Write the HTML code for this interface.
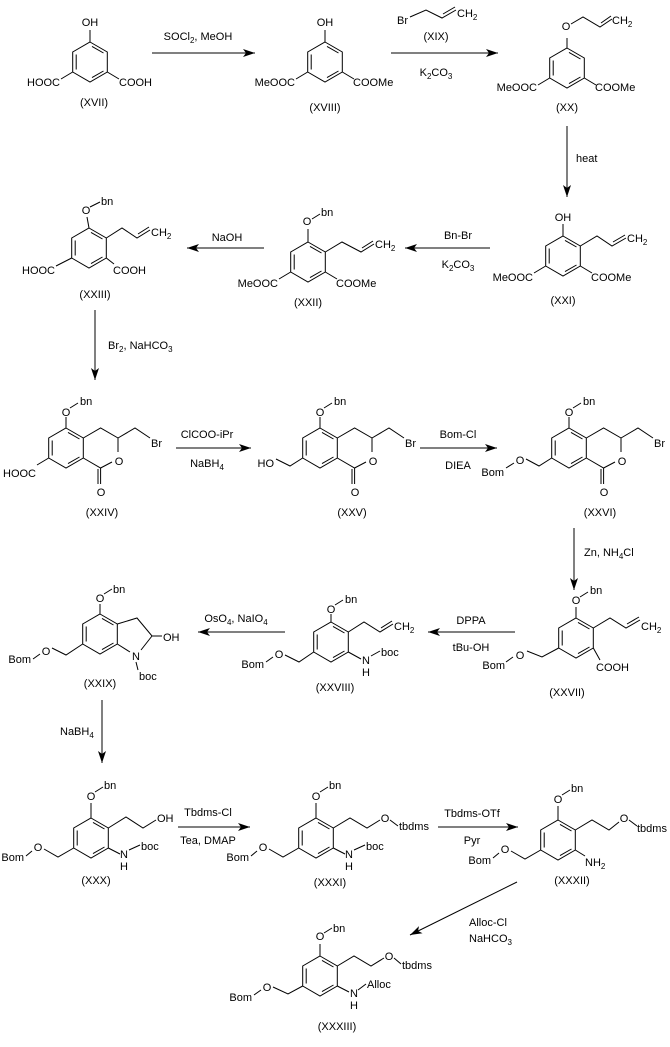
<!DOCTYPE html>
<html><head><meta charset="utf-8"><style>
html,body{margin:0;padding:0;background:#fff}
svg{display:block}
text{font-family:"Liberation Sans",Arial,sans-serif;font-size:11px;fill:#000}
.m{text-anchor:middle}.e{text-anchor:end}
</style></head><body>
<svg width="670" height="1047" viewBox="0 0 670 1047" xmlns="http://www.w3.org/2000/svg">
<defs>
<marker id="a" markerUnits="userSpaceOnUse" markerWidth="14" markerHeight="10" refX="12" refY="5" orient="auto">
<path d="M0,1 L12,5 L0,9 L3,5 Z" fill="#000"/></marker>
<g id="r" fill="none" stroke="#000" stroke-width="1">
<polygon points="0,-20 17.3,-10 17.3,10 0,20 -17.3,10 -17.3,-10"/>
<line x1="-13.8" y1="-7.5" x2="-13.8" y2="7.5"/>
<line x1="2" y1="-15.6" x2="13.5" y2="-9"/>
<line x1="13.5" y1="9" x2="2" y2="15.6"/>
</g>
<g id="lac" fill="none" stroke="#000" stroke-width="1">
<polyline points="17.3,-10 34.6,-20 52,-10 52,4"/>
<polyline points="46,14 34.6,20 17.3,10"/>
<line x1="34.6" y1="20" x2="34.6" y2="36"/>
<line x1="32" y1="21" x2="32" y2="36"/>
</g>
</defs>
<g stroke="#000" stroke-width="1" fill="none">
<!-- arrows -->
<line x1="152" y1="53" x2="255" y2="53" marker-end="url(#a)"/>
<line x1="391" y1="53" x2="498" y2="53" marker-end="url(#a)"/>
<line x1="567" y1="126" x2="567" y2="197" marker-end="url(#a)"/>
<line x1="490" y1="248" x2="405" y2="248" marker-end="url(#a)"/>
<line x1="264" y1="248" x2="187" y2="248" marker-end="url(#a)"/>
<line x1="95" y1="310" x2="95" y2="380" marker-end="url(#a)"/>
<line x1="176" y1="448" x2="251" y2="448" marker-end="url(#a)"/>
<line x1="420" y1="448" x2="497" y2="448" marker-end="url(#a)"/>
<line x1="574" y1="528" x2="574" y2="590" marker-end="url(#a)"/>
<line x1="515" y1="632" x2="428" y2="632" marker-end="url(#a)"/>
<line x1="285" y1="632" x2="198" y2="632" marker-end="url(#a)"/>
<line x1="102" y1="700" x2="102" y2="763" marker-end="url(#a)"/>
<line x1="178" y1="827" x2="250" y2="827" marker-end="url(#a)"/>
<line x1="438" y1="827" x2="518" y2="827" marker-end="url(#a)"/>
<line x1="517" y1="882" x2="410" y2="935" marker-end="url(#a)"/>

<!-- XVII -->
<use href="#r" x="90" y="62"/>
<path d="M90,42V30M72.7,72L61,79M107.3,72L119,79"/>
<!-- XVIII -->
<use href="#r" x="325" y="62"/>
<path d="M325,42V30M307.7,72L296,79M342.3,72L354,79"/>
<!-- XIX -->
<path d="M410,17L426,10L442,18L456,10M443,14L455,7"/>
<!-- XX -->
<use href="#r" x="567" y="68"/>
<path d="M567,48V38M571,24L583,17L600,27L612,19M601,23L611,16M549.7,78L538,85M584.3,78L596,85"/>
<!-- XXI -->
<use href="#r" x="563" y="256"/>
<path d="M563,236V224M580.3,246L597,236L612,246L626,238M613,242L625,235M545.7,266L534,273M580.3,266L592,273"/>
<!-- XXII -->
<use href="#r" x="308" y="262"/>
<path d="M308,242V229M312,219L320,214M325.3,252L342,242L361,252L374,244M362,248L373,241M290.7,272L279,279M325.3,272L337,279"/>
<!-- XXIII -->
<use href="#r" x="89" y="248"/>
<path d="M89,228L87,217M90,207L100,202M106.3,238L122,228L137,238L150,230M138,234L149,227M71.7,258L56,266M106.3,258L114,264"/>
<!-- XXIV -->
<use href="#r" x="66" y="448"/><use href="#lac" x="66" y="448"/>
<path d="M66,428V417M70,408L78,403M118,438L135,428L150,438M48.7,458L37,465"/>
<!-- XXV -->
<use href="#r" x="320" y="448"/><use href="#lac" x="320" y="448"/>
<path d="M320,428V417M324,408L332,403M372,438L389,428L404,438M302.7,458L290,466L276,459"/>
<!-- XXVI -->
<use href="#r" x="569" y="448"/><use href="#lac" x="569" y="448"/>
<path d="M569,428V417M573,408L581,403M621,438L638,428L653,438M551.7,458L539,466L526,459M514,463L506,468"/>
<!-- XXVII -->
<use href="#r" x="576" y="638"/>
<path d="M576,618V607M580,597L588,592M593.3,628L610,618L626,628L640,620M627,624L639,617M593.3,648L600,660M558.7,648L542,657L527,651M513,657L506,662"/>
<!-- XXVIII -->
<use href="#r" x="331" y="642"/>
<path d="M331,622V614M335,605L343,600M348.3,632L364,622L380,632L393,624M381,628L392,621M348.3,652L361,659M371,656L380,651M313.7,652L299,662L285,655M273,657L266,662"/>
<!-- XXIX -->
<use href="#r" x="100" y="634"/>
<path d="M100,614V604M104,594L112,589M117.3,624L137,618L152,636L162,636M152,636L141,650M117.3,644L130,652M136,662L138,670M82.7,644L66,655L52,648M40,654L33,659"/>
<!-- XXX -->
<use href="#r" x="91" y="838"/>
<path d="M91,818V803M95,792L103,787M108.3,828L126,817L143,828L156,820M108.3,848L120,854M129,850L140,845M73.7,848L58,857L44,849M32,851L26,856"/>
<!-- XXXI -->
<use href="#r" x="316" y="838"/>
<path d="M316,818V803M320,792L328,787M333.3,828L350,818L367,828L380,820M390,820L398,826M333.3,848L345,854M354,850L365,845M298.7,848L283,857L269,849M257,851L251,856"/>
<!-- XXXII -->
<use href="#r" x="558" y="840"/>
<path d="M558,820V806M562,795L570,790M575.3,830L592,820L609,830L619,822M629,820L637,826M575.3,850L585,856M540.7,850L525,859L511,851M499,853L493,858"/>
<!-- XXXIII -->
<use href="#r" x="320" y="976"/>
<path d="M320,956V944M324,933L332,928M337.3,966L354,956L371,966L384,958M394,958L401,964M337.3,986L349,992M358,990L366,984M302.7,986L288,994L273,987M261,990L254,995"/>
</g>

<!-- text -->
<text class="m" x="90" y="26">OH</text>
<text class="e" x="60" y="86">HOOC</text>
<text x="119" y="86">COOH</text>
<text class="m" x="94" y="106">(XVII)</text>
<text class="m" x="198" y="40">SOCl<tspan font-size="8" dy="3">2</tspan><tspan dy="-3">, MeOH</tspan></text>

<text class="m" x="325" y="26">OH</text>
<text class="e" x="295" y="86">MeOOC</text>
<text x="353" y="86">COOMe</text>
<text class="m" x="325" y="111">(XVIII)</text>

<text x="397" y="24">Br</text>
<text x="457" y="17">CH<tspan font-size="8" dy="3">2</tspan></text>
<text class="m" x="436" y="40">(XIX)</text>
<text class="m" x="436" y="76">K<tspan font-size="8" dy="3">2</tspan><tspan dy="-3">CO</tspan><tspan font-size="8" dy="3">3</tspan></text>

<text class="m" x="566" y="30">O</text>
<text x="612" y="24">CH<tspan font-size="8" dy="3">2</tspan></text>
<text class="e" x="537" y="91">MeOOC</text>
<text x="595" y="91">COOMe</text>
<text class="m" x="567" y="111">(XX)</text>
<text x="576" y="162">heat</text>

<text class="m" x="563" y="221">OH</text>
<text x="627" y="242">CH<tspan font-size="8" dy="3">2</tspan></text>
<text class="e" x="533" y="281">MeOOC</text>
<text x="591" y="281">COOMe</text>
<text class="m" x="563" y="304">(XXI)</text>
<text class="m" x="458" y="239">Bn-Br</text>
<text class="m" x="458" y="268">K<tspan font-size="8" dy="3">2</tspan><tspan dy="-3">CO</tspan><tspan font-size="8" dy="3">3</tspan></text>

<text class="m" x="307" y="225">O</text>
<text x="321" y="216">bn</text>
<text x="375" y="248">CH<tspan font-size="8" dy="3">2</tspan></text>
<text class="e" x="278" y="287">MeOOC</text>
<text x="336" y="287">COOMe</text>
<text class="m" x="308" y="306">(XXII)</text>
<text class="m" x="227" y="241">NaOH</text>

<text class="m" x="86" y="214">O</text>
<text x="101" y="205">bn</text>
<text x="151" y="236">CH<tspan font-size="8" dy="3">2</tspan></text>
<text class="e" x="55" y="274">HOOC</text>
<text x="113" y="274">COOH</text>
<text class="m" x="95" y="298">(XXIII)</text>
<text x="108" y="349">Br<tspan font-size="8" dy="3">2</tspan><tspan dy="-3">, NaHCO</tspan><tspan font-size="8" dy="3">3</tspan></text>

<text class="m" x="66" y="416">O</text>
<text x="80" y="405">bn</text>
<text x="151" y="447">Br</text>
<text class="m" x="119" y="465">O</text>
<text class="m" x="101" y="496">O</text>
<text class="e" x="36" y="477">HOOC</text>
<text class="m" x="102" y="516">(XXIV)</text>
<text class="m" x="207" y="438">ClCOO-iPr</text>
<text class="m" x="207" y="467">NaBH<tspan font-size="8" dy="3">4</tspan></text>

<text class="m" x="320" y="416">O</text>
<text x="334" y="405">bn</text>
<text x="405" y="447">Br</text>
<text class="m" x="373" y="465">O</text>
<text class="m" x="355" y="496">O</text>
<text class="e" x="274" y="467">HO</text>
<text class="m" x="352" y="516">(XXV)</text>
<text class="m" x="458" y="438">Bom-Cl</text>
<text class="m" x="458" y="469">DIEA</text>

<text class="m" x="569" y="416">O</text>
<text x="583" y="405">bn</text>
<text x="654" y="447">Br</text>
<text class="m" x="622" y="465">O</text>
<text class="m" x="604" y="496">O</text>
<text class="m" x="520" y="464">O</text>
<text class="e" x="504" y="476">Bom</text>
<text class="m" x="600" y="516">(XXVI)</text>
<text x="584" y="556">Zn,  NH<tspan font-size="8" dy="3">4</tspan><tspan dy="-3">Cl</tspan></text>

<text class="m" x="576" y="604">O</text>
<text x="590" y="594">bn</text>
<text x="641" y="630">CH<tspan font-size="8" dy="3">2</tspan></text>
<text x="596" y="671">COOH</text>
<text class="m" x="520" y="659">O</text>
<text class="e" x="505" y="669">Bom</text>
<text class="m" x="567" y="696">(XXVII)</text>
<text class="m" x="471" y="624">DPPA</text>
<text class="m" x="471" y="651">tBu-OH</text>

<text class="m" x="331" y="613">O</text>
<text x="345" y="603">bn</text>
<text x="394" y="630">CH<tspan font-size="8" dy="3">2</tspan></text>
<text class="m" x="366" y="664">N</text>
<text class="m" x="366" y="676">H</text>
<text x="381" y="656">boc</text>
<text class="m" x="279" y="658">O</text>
<text class="e" x="264" y="668">Bom</text>
<text class="m" x="335" y="691">(XXVIII)</text>
<text class="m" x="236" y="622">OsO<tspan font-size="8" dy="3">4</tspan><tspan dy="-3">, NaIO</tspan><tspan font-size="8" dy="3">4</tspan></text>

<text class="m" x="100" y="602">O</text>
<text x="113" y="593">bn</text>
<text x="163" y="641">OH</text>
<text class="m" x="136" y="660">N</text>
<text x="139" y="680">boc</text>
<text class="m" x="46" y="655">O</text>
<text class="e" x="31" y="663">Bom</text>
<text class="m" x="100" y="687">(XXIX)</text>
<text x="60" y="735">NaBH<tspan font-size="8" dy="3">4</tspan></text>

<text class="m" x="91" y="800">O</text>
<text x="104" y="789">bn</text>
<text x="157" y="822">OH</text>
<text class="m" x="124" y="858">N</text>
<text class="m" x="124" y="870">H</text>
<text x="141" y="850">boc</text>
<text class="m" x="38" y="851">O</text>
<text class="e" x="24" y="861">Bom</text>
<text class="m" x="96" y="884">(XXX)</text>
<text class="m" x="208" y="816">Tbdms-Cl</text>
<text class="m" x="208" y="844">Tea, DMAP</text>

<text class="m" x="316" y="800">O</text>
<text x="329" y="789">bn</text>
<text class="m" x="385" y="822">O</text>
<text x="399" y="830">tbdms</text>
<text class="m" x="349" y="858">N</text>
<text class="m" x="349" y="870">H</text>
<text x="366" y="850">boc</text>
<text class="m" x="263" y="851">O</text>
<text class="e" x="249" y="861">Bom</text>
<text class="m" x="330" y="886">(XXXI)</text>
<text class="m" x="472" y="817">Tbdms-OTf</text>
<text class="m" x="472" y="844">Pyr</text>

<text class="m" x="558" y="803">O</text>
<text x="571" y="792">bn</text>
<text class="m" x="624" y="822">O</text>
<text x="637" y="832">tbdms</text>
<text x="585" y="866">NH<tspan font-size="8" dy="3">2</tspan></text>
<text class="m" x="505" y="853">O</text>
<text class="e" x="491" y="864">Bom</text>
<text class="m" x="572" y="884">(XXXII)</text>
<text x="469" y="926">Alloc-Cl</text>
<text x="469" y="942">NaHCO<tspan font-size="8" dy="3">3</tspan></text>

<text class="m" x="320" y="940">O</text>
<text x="333" y="932">bn</text>
<text class="m" x="389" y="960">O</text>
<text x="402" y="969">tbdms</text>
<text class="m" x="354" y="997">N</text>
<text class="m" x="354" y="1009">H</text>
<text x="367" y="988">Alloc</text>
<text class="m" x="267" y="991">O</text>
<text class="e" x="252" y="1001">Bom</text>
<text class="m" x="337" y="1030">(XXXIII)</text>
</svg>
</body></html>
